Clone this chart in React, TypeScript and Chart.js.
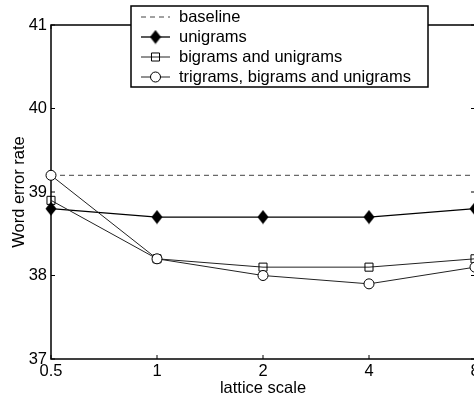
import React, { useEffect, useRef } from "react";
import { Chart, registerables } from "chart.js";

Chart.register(...registerables);

const latticeScales = ["0.5", "1", "2", "4", "8"];
const baselineValues = [39.2, 39.2, 39.2, 39.2, 39.2];
const unigramValues = [38.8, 38.7, 38.7, 38.7, 38.8];
const bigramValues = [38.9, 38.2, 38.1, 38.1, 38.2];
const trigramValues = [39.2, 38.2, 38.0, 37.9, 38.1];
const yTickValues = [37, 38, 39, 40, 41];
const seriesLabels = [
  "baseline",
  "unigrams",
  "bigrams and unigrams",
  "trigrams, bigrams and unigrams",
];
const xTitle = "lattice scale";
const yTitle = "Word error rate";

const FONT = "'Liberation Sans', Arial, Helvetica, sans-serif";
const FS = 16.5;
const CANVAS_W = 490;
const CANVAS_H = 399;

function makeDiamond(): HTMLCanvasElement {
  const c = document.createElement("canvas");
  c.width = 12;
  c.height = 15;
  const ctx = c.getContext("2d")!;
  ctx.fillStyle = "#000";
  ctx.beginPath();
  ctx.moveTo(6, 0.5);
  ctx.lineTo(11.5, 7.5);
  ctx.lineTo(6, 14.5);
  ctx.lineTo(0.5, 7.5);
  ctx.closePath();
  ctx.fill();
  return c;
}

const framePlugin = {
  id: "frame",
  beforeDatasetsDraw(chart: any) {
    const { ctx, chartArea, scales } = chart;
    const { left, right, top, bottom } = chartArea;
    const x = scales.x;
    const y = scales.y;
    ctx.save();
    ctx.strokeStyle = "#000";
    ctx.lineWidth = 1;
    x.ticks.forEach((_t: any, i: number) => {
      const px = x.getPixelForTick(i);
      ctx.beginPath();
      ctx.moveTo(px, bottom);
      ctx.lineTo(px, bottom - 4);
      ctx.moveTo(px, top);
      ctx.lineTo(px, top + 4);
      ctx.stroke();
    });
    y.ticks.forEach((_t: any, i: number) => {
      const py = y.getPixelForTick(i);
      ctx.beginPath();
      ctx.moveTo(left, py);
      ctx.lineTo(left + 4, py);
      ctx.moveTo(right, py);
      ctx.lineTo(right - 4, py);
      ctx.stroke();
    });
    ctx.lineWidth = 1.5;
    ctx.strokeRect(left, top, right - left, bottom - top);
    ctx.restore();
  },
};

const legendPlugin = {
  id: "customLegend",
  afterDraw(chart: any) {
    const { ctx } = chart;
    const datasets = chart.data.datasets;
    const bx = 131;
    const by = 6;
    const bw = 297;
    const bh = 81;
    ctx.save();
    ctx.fillStyle = "#fff";
    ctx.fillRect(bx, by, bw, bh);
    ctx.strokeStyle = "#000";
    ctx.lineWidth = 1.5;
    ctx.strokeRect(bx, by, bw, bh);
    ctx.font = `${FS}px ${FONT}`;
    ctx.textBaseline = "middle";
    ctx.textAlign = "left";
    datasets.forEach((ds: any, i: number) => {
      const cy = by + 11 + i * 20;
      const x0 = 141;
      const x1 = 170;
      const mx = 155.5;
      ctx.save();
      ctx.strokeStyle = ds.borderColor;
      ctx.lineWidth = ds.borderWidth;
      ctx.setLineDash(ds.borderDash || []);
      ctx.beginPath();
      ctx.moveTo(x0, cy);
      ctx.lineTo(x1, cy);
      ctx.stroke();
      ctx.restore();
      if (ds.pointRadius > 0) {
        const style = ds.pointStyle;
        ctx.save();
        ctx.lineWidth = ds.pointBorderWidth || 1;
        ctx.strokeStyle = ds.pointBorderColor;
        ctx.fillStyle = ds.pointBackgroundColor;
        if (style && typeof style === "object") {
          ctx.drawImage(style, mx - style.width / 2, cy - style.height / 2);
        } else if (style === "circle") {
          ctx.beginPath();
          ctx.arc(mx, cy, ds.pointRadius, 0, Math.PI * 2);
          ctx.fill();
          ctx.stroke();
        } else if (style === "rect") {
          const s = Math.SQRT1_2 * ds.pointRadius;
          ctx.beginPath();
          ctx.rect(mx - s, cy - s, 2 * s, 2 * s);
          ctx.fill();
          ctx.stroke();
        }
        ctx.restore();
      }
      ctx.fillStyle = "#000";
      ctx.fillText(ds.label, 179, cy);
    });
    ctx.restore();
  },
};

export default function App() {
  const ref = useRef<HTMLCanvasElement>(null);

  useEffect(() => {
    const diamond = makeDiamond();
    const chart = new Chart(ref.current!, {
      type: "line",
      data: {
        labels: latticeScales,
        datasets: [
          {
            label: seriesLabels[0],
            data: baselineValues,
            borderColor: "#444",
            borderWidth: 1,
            borderDash: [5, 4],
            pointRadius: 0,
            fill: false,
            order: 3,
          },
          {
            label: seriesLabels[1],
            data: unigramValues,
            borderColor: "#000",
            borderWidth: 1.3,
            pointStyle: diamond as any,
            pointRadius: 6,
            pointBorderColor: "#000",
            pointBackgroundColor: "#000",
            fill: false,
            order: 2,
          },
          {
            label: seriesLabels[2],
            data: bigramValues,
            borderColor: "#222",
            borderWidth: 1,
            pointStyle: "rect",
            pointRadius: 5.7,
            pointBorderWidth: 1,
            pointBorderColor: "#000",
            pointBackgroundColor: "rgba(0,0,0,0)",
            fill: false,
            order: 1,
          },
          {
            label: seriesLabels[3],
            data: trigramValues,
            borderColor: "#222",
            borderWidth: 1,
            pointStyle: "circle",
            pointRadius: 5,
            pointBorderWidth: 1,
            pointBorderColor: "#000",
            pointBackgroundColor: "#fff",
            fill: false,
            order: 0,
          },
        ] as any,
      },
      options: {
        animation: false,
        responsive: false,
        devicePixelRatio: 1,
        layout: { padding: { top: 25, right: CANVAS_W - 475, left: 0, bottom: 0 } },
        plugins: {
          legend: { display: false },
          tooltip: { enabled: false },
        },
        elements: { line: { tension: 0 } },
        scales: {
          x: {
            type: "category",
            offset: false,
            grid: { display: false, drawTicks: false },
            border: { display: false },
            ticks: {
              color: "#000",
              font: { family: FONT, size: FS },
              padding: 3,
              maxRotation: 0,
              autoSkip: false,
            },
            title: {
              display: true,
              text: xTitle,
              color: "#000",
              font: { family: FONT, size: FS },
              padding: { top: 0, bottom: 1 },
            },
            afterFit(scale: any) {
              scale.height = 40;
            },
          },
          y: {
            type: "linear",
            min: yTickValues[0],
            max: yTickValues[yTickValues.length - 1],
            grid: { display: false, drawTicks: false },
            border: { display: false },
            afterBuildTicks(scale: any) {
              scale.ticks = yTickValues.map((v) => ({ value: v }));
            },
            ticks: {
              color: "#000",
              font: { family: FONT, size: FS },
              padding: 4,
            },
            title: {
              display: true,
              text: yTitle,
              color: "#000",
              font: { family: FONT, size: FS },
              padding: { top: 10, bottom: 0 },
            },
            afterFit(scale: any) {
              scale.width = 51;
            },
          },
        },
      },
      plugins: [framePlugin, legendPlugin],
    });
    return () => chart.destroy();
  }, []);

  return (
    <div
      style={{
        position: "fixed",
        left: 0,
        top: 0,
        width: 474,
        height: 399,
        overflow: "hidden",
        background: "#fff",
      }}
    >
      <canvas ref={ref} width={CANVAS_W} height={CANVAS_H} style={{ display: "block" }} />
    </div>
  );
}
